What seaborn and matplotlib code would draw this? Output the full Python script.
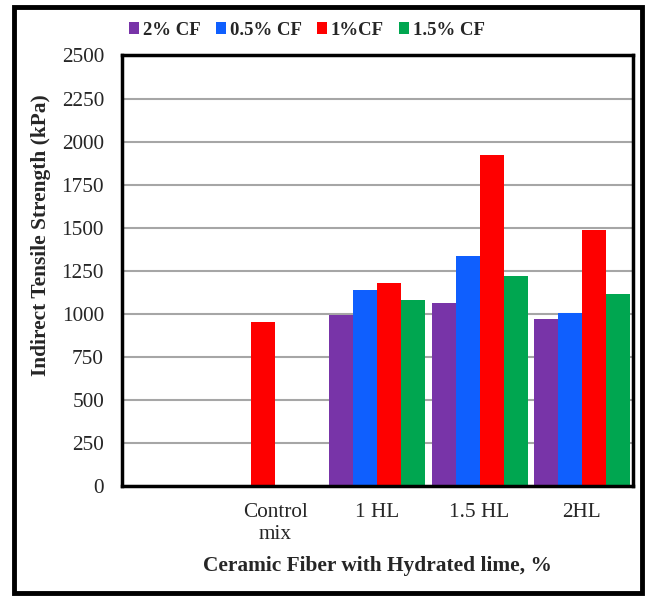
import numpy as np
import pandas as pd
import seaborn as sns
import matplotlib.pyplot as plt
from matplotlib.patches import Rectangle

# Data
groups = ["", "Control mix", "1 HL", "1.5 HL", "2HL"]
group_labels = ["", "Control\nmix", "1 HL", "1.5 HL", "2HL"]
series = ["2% CF", "0.5% CF", "1%CF", "1.5% CF"]
colors = ["#7834a8", "#0f5ffe", "#fe0000", "#00a650"]

cf_2 = [np.nan, np.nan, 994, 1062, 969]
cf_05 = [np.nan, np.nan, 1141, 1337, 1006]
cf_1 = [np.nan, 955, 1180, 1920, 1490]
cf_15 = [np.nan, np.nan, 1083, 1223, 1116]

df = pd.DataFrame({"group": groups, "2% CF": cf_2, "0.5% CF": cf_05,
                   "1%CF": cf_1, "1.5% CF": cf_15})
long = df.melt(id_vars="group", var_name="series", value_name="its").dropna()

sns.set_style("white")
plt.rcParams["font.family"] = ["Liberation Serif", "DejaVu Serif"]

fig, ax = plt.subplots(figsize=(6.49, 5.96), dpi=100)
fig.subplots_adjust(left=0.188, right=0.975, bottom=0.184, top=0.907)

sns.barplot(data=long, x="group", y="its", hue="series", order=groups,
            hue_order=series, palette=colors, saturation=1, width=0.94,
            linewidth=0, ax=ax)

# control mix bar sits one slot to the left in the original
ctrl = min(ax.containers[2].patches, key=lambda p: p.get_x())
ctrl.set_x(ctrl.get_x() - ctrl.get_width())

ax.set_ylim(0, 2500)
ax.set_yticks(np.arange(0, 2501, 250))
ax.set_xticks(range(len(groups)))
ax.set_xticklabels(group_labels, linespacing=1.2)
ax.tick_params(axis="y", labelsize=15.3, length=3, width=1, color="#808080", pad=10)
ax.tick_params(axis="x", labelsize=15.3, length=0, pad=12)

ax.yaxis.grid(True, color="#a6a6a6", linewidth=1.5)
ax.set_axisbelow(True)
for sp in ax.spines.values():
    sp.set_visible(True)
    sp.set_color("black")
    sp.set_linewidth(2.5)

ax.set_xlabel("Ceramic Fiber with Hydrated lime, %", fontsize=15.4,
              fontweight="bold", labelpad=9)
ax.set_ylabel("Indirect Tensile Strength (kPa)", fontsize=15.4,
              fontweight="bold")
ax.yaxis.set_label_coords(-0.139, 0.582)

sns.move_legend(ax, "center", bbox_to_anchor=(0.362, 1.058), ncol=4,
                frameon=False, title=None, handlelength=0.55, handleheight=0.6,
                handletextpad=0.2, columnspacing=0.8,
                prop={"weight": "bold", "size": 13.5})

# outer frame around the whole figure
fig.patches.append(Rectangle((0.0216, 0.005), 0.9676, 0.984,
                             transform=fig.transFigure, fill=False,
                             edgecolor="black", linewidth=3.5))

fig.savefig("out.png", dpi=100)
